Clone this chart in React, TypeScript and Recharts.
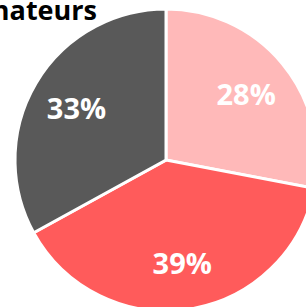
import { PieChart, Pie, Cell } from 'recharts';

const labels = ['A', 'B', 'C'];
const shares = [28, 39, 33];
const colors = ['#FFB9B9', '#FF5B5B', '#595959'];
const title = 'Donateurs';

const data = labels.map((name, i) => ({ name, value: shares[i] }));

const RAD = Math.PI / 180;

const renderLabel = ({ cx, cy, midAngle, value }: any) => {
  const r = 104;
  const x = cx + r * Math.cos(-midAngle * RAD);
  const y = cy + r * Math.sin(-midAngle * RAD);
  return (
    <text
      x={x}
      y={y}
      fill="#FFFFFF"
      textAnchor="middle"
      dominantBaseline="central"
      fontFamily="'Open Sans', sans-serif"
      fontWeight={700}
      fontSize={29}
    >
      {value}%
    </text>
  );
};

export default function App() {
  return (
    <div
      style={{
        position: 'fixed',
        left: 0,
        top: 0,
        width: 306,
        height: 307,
        overflow: 'hidden',
        background: '#FFFFFF',
      }}
    >
      <PieChart width={306} height={307} margin={{ top: 0, right: 0, bottom: 0, left: 0 }}>
        <Pie
          data={data}
          dataKey="value"
          cx={166}
          cy={160}
          outerRadius={151}
          startAngle={90}
          endAngle={-270}
          stroke="#FFFFFF"
          strokeWidth={3}
          label={renderLabel}
          labelLine={false}
          isAnimationActive={false}
        >
          {data.map((d, i) => (
            <Cell key={d.name} fill={colors[i]} />
          ))}
        </Pie>
      </PieChart>
      <div
        style={{
          position: 'absolute',
          right: 306 - 97,
          top: -9,
          whiteSpace: 'nowrap',
          fontFamily: "'Open Sans', sans-serif",
          fontWeight: 700,
          fontSize: 27,
          color: '#000000',
        }}
      >
        {title}
      </div>
    </div>
  );
}
